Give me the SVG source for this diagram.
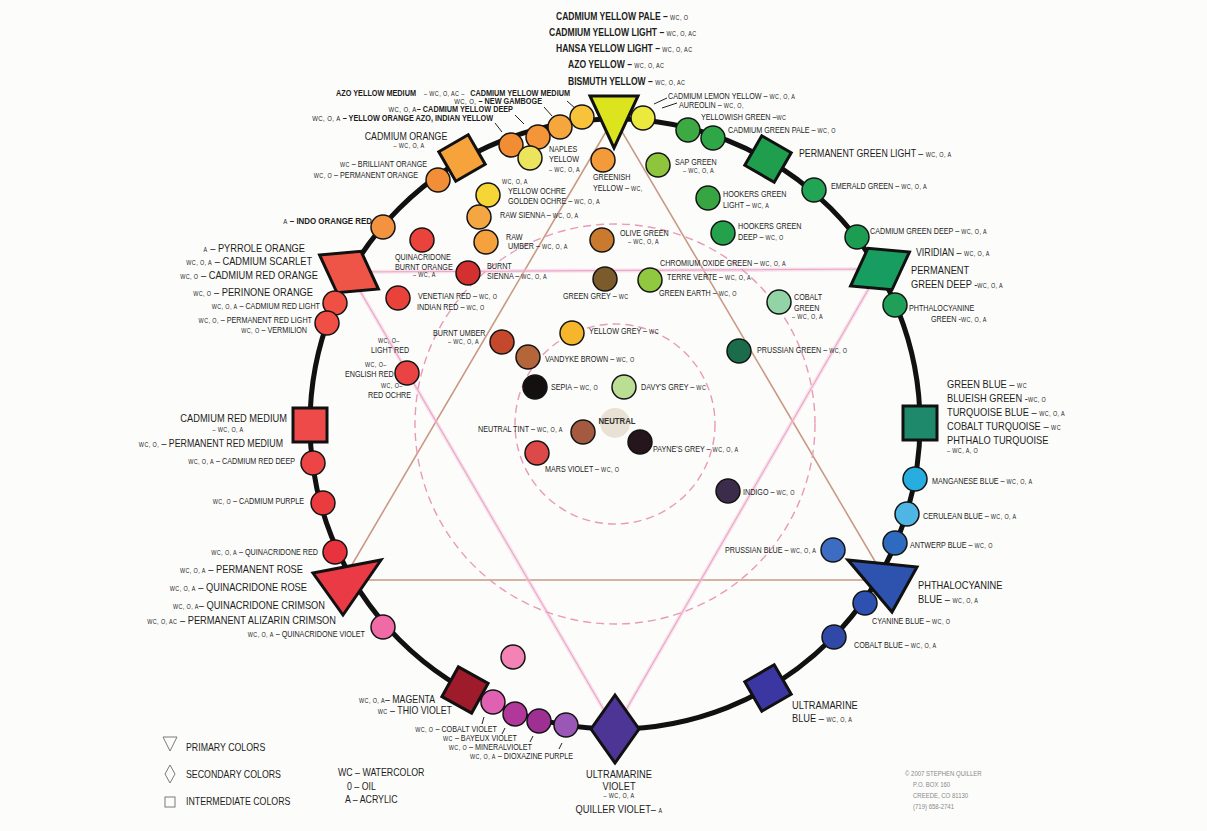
<svg xmlns="http://www.w3.org/2000/svg" width="1207" height="831" viewBox="0 0 1207 831">
<defs>
<style>
text{font-family:"Liberation Sans",Arial,Helvetica,sans-serif;fill:#1d1d1d;transform-box:fill-box;transform-origin:0 50%;transform:scaleX(.8)}
text.e{text-anchor:end;transform-origin:100% 50%}
text.m{text-anchor:middle;transform-origin:50% 50%}
.T{font-size:10.7px;font-weight:bold}
.K{font-size:8.3px;font-weight:bold}
text.K{transform:scaleX(.88)}
.L{font-size:11.6px}
.M{font-size:11px}
.S{font-size:9px}
.w{font-size:6.8px;letter-spacing:.5px;font-weight:normal}
.c{stroke:#141414;stroke-width:1.5}
.sh{stroke:#111;stroke-width:3;stroke-linejoin:miter}
.ring{fill:none;stroke:#111;stroke-width:5}
.br{fill:none;stroke:#c99a84;stroke-width:1.6}
.pkg{fill:none;stroke:#f4c6dc;stroke-width:4;opacity:.45}
.pk{fill:none;stroke:#eba8c8;stroke-width:1.2}
.ds{fill:none;stroke:#e99ab9;stroke-width:1.4;stroke-dasharray:8 5}
.ld{stroke:#222;stroke-width:1}
.lg{fill:none;stroke:#7a7a7a;stroke-width:1}
text.cp{font-size:7.5px;fill:#8a8a8a}
</style>
<polygon id="dia" points="0,-34 24,0 0,34 -24,0"/>
<rect id="sq" x="-17" y="-17" width="34" height="34"/>
</defs>
<rect width="1207" height="831" fill="#fcfcfa"/>

<!-- guide triangles, harmony circles and label leaders -->
<g id="connectors">
<polygon class="br" points="614,118 343,580 886,580"/>
<polygon class="pkg" points="349,272 880,269 615,729"/>
<polygon class="pk" points="349,272 880,269 615,729"/>
<circle class="ds" cx="615" cy="424" r="200"/>
<circle class="ds" cx="615" cy="424" r="100"/>
<line class="ld" x1="567" y1="101" x2="576" y2="109"/>
<line class="ld" x1="544" y1="107" x2="552" y2="116"/>
<line class="ld" x1="515" y1="115" x2="524" y2="124"/>
<line class="ld" x1="495" y1="123" x2="502" y2="132"/>
<line class="ld" x1="654" y1="104" x2="667" y2="98"/>
<line class="ld" x1="662" y1="108" x2="677" y2="103"/>
<line class="ld" x1="484" y1="717" x2="482" y2="724"/>
<line class="ld" x1="505" y1="728" x2="502" y2="734"/>
<line class="ld" x1="533" y1="736" x2="530" y2="742"/>
<line class="ld" x1="562" y1="743" x2="559" y2="749"/>
</g>

<g id="wheel">
<circle class="ring" cx="615" cy="424" r="305"/>
</g>

<!-- outer ring: yellows -->
<g id="primary-yellow">
<polygon class="sh" points="590,96 638,96 614,148" fill="#dbe41c"/>
<text class="T" x="556" y="20">CADMIUM YELLOW PALE – <tspan class="w">WC, O</tspan></text>
<text class="T" x="549" y="36">CADMIUM YELLOW LIGHT – <tspan class="w">WC, O, AC</tspan></text>
<text class="T" x="556" y="52">HANSA YELLOW LIGHT – <tspan class="w">WC, O, AC</tspan></text>
<text class="T" x="568" y="68">AZO YELLOW – <tspan class="w">WC, O, AC</tspan></text>
<text class="T" x="568" y="85">BISMUTH YELLOW – <tspan class="w">WC, O, AC</tspan></text>
</g>
<g id="cadmium-yellow-medium">
<circle class="c" cx="582" cy="117" r="12" fill="#f8c23a"/>
<text class="K" x="336" y="96">AZO YELLOW MEDIUM</text>
<text class="w" x="424" y="96">– WC, O, AC –</text>
<text class="K e" x="570" y="96">CADMIUM YELLOW MEDIUM</text>
</g>
<g id="new-gamboge">
<circle class="c" cx="560" cy="127" r="12" fill="#f5a63c"/>
<text class="K e" x="542" y="104"><tspan class="w">WC, O,</tspan> – NEW GAMBOGE</text>
</g>
<g id="cadmium-yellow-deep">
<circle class="c" cx="538" cy="137" r="12" fill="#f39538"/>
<text class="K e" x="513" y="112"><tspan class="w">WC, O, A</tspan>– CADMIUM YELLOW DEEP</text>
</g>
<g id="yellow-orange-azo">
<circle class="c" cx="511" cy="145" r="12" fill="#f28d33"/>
<text class="K e" x="493" y="121"><tspan class="w">WC, O, A</tspan> – YELLOW ORANGE AZO, INDIAN YELLOW</text>
</g>
<g id="cadmium-orange">
<use href="#sq" class="sh" fill="#f7a33c" transform="translate(462,158) rotate(60)"/>
<text class="M m" x="406" y="140">CADMIUM ORANGE</text>
<text class="w m" x="409" y="148">– WC, O, A</text>
</g>
<g id="permanent-orange">
<circle class="c" cx="438" cy="180" r="12" fill="#f28d38"/>
<text class="S e" x="427" y="167"><tspan class="w">WC</tspan> – BRILLIANT ORANGE</text>
<text class="S e" x="418" y="178"><tspan class="w">WC, O</tspan> – PERMANENT ORANGE</text>
</g>
<g id="indo-orange-red">
<circle class="c" cx="383" cy="227" r="12" fill="#f4933f"/>
<text class="K e" x="372" y="224" style="font-size:9px"><tspan class="w">A</tspan> – INDO ORANGE RED</text>
</g>

<!-- outer ring: oranges and reds -->
<g id="pyrrole-orange">
<use href="#dia" class="sh" fill="#ef5546" transform="translate(349,272) rotate(-60)"/>
<text class="L e" x="305" y="252"><tspan class="w">A</tspan> – PYRROLE ORANGE</text>
<text class="L e" x="312" y="265"><tspan class="w">WC, O, A</tspan> – CADMIUM SCARLET</text>
<text class="L e" x="318" y="279"><tspan class="w">WC, O</tspan> – CADMIUM RED ORANGE</text>
<text class="L e" x="313" y="296"><tspan class="w">WC, O</tspan> – PERINONE ORANGE</text>
</g>
<g id="cadmium-red-light">
<circle class="c" cx="335" cy="303" r="12" fill="#ef5043"/>
<text class="S e" x="320" y="309"><tspan class="w">WC, O, A</tspan> – CADMIUM RED LIGHT</text>
</g>
<g id="permanent-red-light">
<circle class="c" cx="327" cy="323" r="12" fill="#ef4f44"/>
<text class="S e" x="312" y="323"><tspan class="w">WC, O,</tspan> – PERMANENT RED LIGHT</text>
<text class="S e" x="307" y="333"><tspan class="w">WC, O</tspan> – VERMILION</text>
</g>
<g id="cadmium-red-medium">
<use href="#sq" class="sh" fill="#ee4a4a" transform="translate(310,425)"/>
<text class="L e" x="287" y="422">CADMIUM RED MEDIUM</text>
<text class="w m" x="228" y="432">– WC, O, A</text>
<text class="M e" x="283" y="447"><tspan class="w">WC, O,</tspan> – PERMANENT RED MEDIUM</text>
</g>
<g id="cadmium-red-deep">
<circle class="c" cx="313" cy="463" r="12" fill="#ed4545"/>
<text class="S e" x="295" y="464"><tspan class="w">WC, O, A</tspan> – CADMIUM RED DEEP</text>
</g>
<g id="cadmium-purple">
<circle class="c" cx="323" cy="503" r="12" fill="#ea3c3e"/>
<text class="S e" x="304" y="504"><tspan class="w">WC, O</tspan> – CADMIUM PURPLE</text>
</g>
<g id="quinacridone-red">
<circle class="c" cx="335" cy="552" r="12" fill="#e8333e"/>
<text class="S e" x="318" y="555"><tspan class="w">WC, O, A</tspan> – QUINACRIDONE RED</text>
</g>
<g id="primary-red">
<polygon class="sh" points="313,573 381,560 343,615" fill="#e93a46"/>
<text class="L e" x="303" y="573"><tspan class="w">WC, O, A</tspan> – PERMANENT ROSE</text>
<text class="L e" x="307" y="591"><tspan class="w">WC, O, A</tspan> – QUINACRIDONE ROSE</text>
<text class="L e" x="325" y="609"><tspan class="w">WC, O, A</tspan>– QUINACRIDONE CRIMSON</text>
<text class="L e" x="336" y="624"><tspan class="w">WC, O, AC</tspan> – PERMANENT ALIZARIN CRIMSON</text>
</g>
<g id="quinacridone-violet">
<circle class="c" cx="383" cy="627" r="12" fill="#f06ba6"/>
<text class="S e" x="365" y="637"><tspan class="w">WC, O, A</tspan> – QUINACRIDONE VIOLET</text>
</g>

<!-- outer ring: violets -->
<g id="magenta">
<use href="#sq" class="sh" fill="#9d1b2b" transform="translate(465,690) rotate(29)"/>
<text class="M e" x="435" y="703"><tspan class="w">WC, O, A</tspan>– MAGENTA</text>
<text class="M e" x="452" y="714"><tspan class="w">WC</tspan> – THIO VIOLET</text>
</g>
<g id="cobalt-violet">
<circle class="c" cx="493" cy="702" r="12" fill="#e060b2"/>
<text class="S e" x="497" y="732"><tspan class="w">WC, O</tspan> – COBALT VIOLET</text>
</g>
<g id="bayeux-violet">
<circle class="c" cx="515" cy="714" r="12" fill="#b1379a"/>
<text class="S e" x="517" y="741"><tspan class="w">WC</tspan> – BAYEUX VIOLET</text>
</g>
<g id="mineral-violet">
<circle class="c" cx="539" cy="721" r="12" fill="#9e2f93"/>
<text class="S e" x="532" y="750"><tspan class="w">WC, O</tspan> – MINERALVIOLET</text>
</g>
<g id="dioxazine-purple">
<circle class="c" cx="566" cy="725" r="12" fill="#9b57b6"/>
<text class="S e" x="573" y="759"><tspan class="w">WC, O, A</tspan> – DIOXAZINE PURPLE</text>
</g>
<g id="ultramarine-violet">
<use href="#dia" class="sh" fill="#4c3594" transform="translate(615,729)"/>
<text class="L m" x="619" y="778">ULTRAMARINE</text>
<text class="L m" x="619" y="790">VIOLET</text>
<text class="w m" x="619" y="798">– WC, O, A</text>
<text class="L m" x="619" y="813">QUILLER VIOLET– <tspan class="w">A</tspan></text>
</g>

<!-- outer ring: blues -->
<g id="ultramarine-blue">
<use href="#sq" class="sh" fill="#3b36a1" transform="translate(768,688) rotate(60)"/>
<text class="L" x="792" y="709">ULTRAMARINE</text>
<text class="L" x="792" y="722">BLUE – <tspan class="w">WC, O, A</tspan></text>
</g>
<g id="cobalt-blue">
<circle class="c" cx="834" cy="637" r="12" fill="#3049a7"/>
<text class="S" x="854" y="648">COBALT BLUE – <tspan class="w">WC, O, A</tspan></text>
</g>
<g id="cyanine-blue">
<circle class="c" cx="865" cy="603" r="12" fill="#2e50b0"/>
<text class="S" x="872" y="624">CYANINE BLUE – <tspan class="w">WC, O</tspan></text>
</g>
<g id="primary-blue">
<polygon class="sh" points="848,560 917,567 892,612" fill="#2d53ae"/>
<text class="L" x="918" y="589">PHTHALOCYANINE</text>
<text class="L" x="918" y="603">BLUE – <tspan class="w">WC, O, A</tspan></text>
</g>
<g id="antwerp-blue">
<circle class="c" cx="895" cy="543" r="12" fill="#2e6bbf"/>
<text class="S" x="910" y="548">ANTWERP BLUE – <tspan class="w">WC, O</tspan></text>
</g>
<g id="cerulean-blue">
<circle class="c" cx="907" cy="514" r="12" fill="#4fb5e5"/>
<text class="S" x="923" y="519">CERULEAN BLUE – <tspan class="w">WC, O, A</tspan></text>
</g>
<g id="manganese-blue">
<circle class="c" cx="915" cy="479" r="12" fill="#28ade0"/>
<text class="S" x="932" y="484">MANGANESE BLUE – <tspan class="w">WC, O, A</tspan></text>
</g>
<g id="turquoise">
<use href="#sq" class="sh" fill="#1e8a6b" transform="translate(920,423)"/>
<text class="L" x="947" y="388">GREEN BLUE – <tspan class="w">WC</tspan></text>
<text class="L" x="947" y="402">BLUEISH GREEN -<tspan class="w">WC, O</tspan></text>
<text class="L" x="947" y="416">TURQUOISE BLUE – <tspan class="w">WC, O, A</tspan></text>
<text class="L" x="947" y="430">COBALT TURQUOISE – <tspan class="w">WC</tspan></text>
<text class="L" x="947" y="444">PHTHALO TURQUOISE</text>
<text class="w" x="947" y="453">– WC, A, O</text>
</g>

<!-- outer ring: greens -->
<g id="phthalocyanine-green">
<circle class="c" cx="895" cy="305" r="12" fill="#1f9f58"/>
<text class="S" x="909" y="311">PHTHALOCYANINE</text>
<text class="S" x="931" y="322">GREEN -<tspan class="w">WC, O, A</tspan></text>
</g>
<g id="viridian">
<use href="#dia" class="sh" fill="#179d60" transform="translate(880,269) rotate(60)"/>
<text class="M" x="916" y="256">VIRIDIAN – <tspan class="w">WC, O, A</tspan></text>
<text class="L" x="911" y="274">PERMANENT</text>
<text class="L" x="911" y="288">GREEN DEEP -<tspan class="w">WC, O, A</tspan></text>
</g>
<g id="cadmium-green-deep">
<circle class="c" cx="857" cy="237" r="12" fill="#1d9d52"/>
<text class="S" x="870" y="234">CADMIUM GREEN DEEP – <tspan class="w">WC, O, A</tspan></text>
</g>
<g id="emerald-green">
<circle class="c" cx="814" cy="190" r="12" fill="#22a455"/>
<text class="S" x="831" y="189">EMERALD GREEN – <tspan class="w">WC, O, A</tspan></text>
</g>
<g id="permanent-green-light">
<use href="#sq" class="sh" fill="#1f9e4e" transform="translate(768,159) rotate(30)"/>
<text class="M" x="799" y="157">PERMANENT GREEN LIGHT – <tspan class="w">WC, O, A</tspan></text>
</g>
<g id="cadmium-green-pale">
<circle class="c" cx="713" cy="138" r="12" fill="#30a747"/>
<text class="S" x="728" y="133">CADMIUM GREEN PALE – <tspan class="w">WC, O</tspan></text>
</g>
<g id="yellowish-green">
<circle class="c" cx="688" cy="130" r="12" fill="#3da942"/>
<text class="S" x="701" y="120">YELLOWISH GREEN –<tspan class="w">WC</tspan></text>
</g>
<g id="cadmium-lemon-yellow">
<circle class="c" cx="643" cy="118" r="12" fill="#ebe83e"/>
<text class="S" x="668" y="99">CADMIUM LEMON YELLOW – <tspan class="w">WC, O, A</tspan></text>
<text class="S" x="679" y="108">AUREOLIN – <tspan class="w">WC, O,</tspan></text>
</g>

<!-- inner mixing colours -->
<g id="naples-yellow">
<circle class="c" cx="530" cy="158" r="12" fill="#ede45e"/>
<text class="S" x="549" y="152">NAPLES</text>
<text class="S" x="549" y="162">YELLOW</text>
<text class="w" x="549" y="172">– WC, O, A</text>
</g>
<g id="greenish-yellow">
<circle class="c" cx="603" cy="160" r="12" fill="#f39b3b"/>
<text class="S" x="593" y="180">GREENISH</text>
<text class="S" x="593" y="191">YELLOW – <tspan class="w">WC,</tspan></text>
</g>
<g id="sap-green">
<circle class="c" cx="658" cy="165" r="12" fill="#8ec53d"/>
<text class="S" x="675" y="165">SAP GREEN</text>
<text class="w" x="683" y="173">– WC, O, A</text>
</g>
<g id="hookers-green-light">
<circle class="c" cx="708" cy="198" r="12" fill="#37a642"/>
<text class="S" x="723" y="197">HOOKERS GREEN</text>
<text class="S" x="723" y="208">LIGHT – <tspan class="w">WC, A</tspan></text>
</g>
<g id="hookers-green-deep">
<circle class="c" cx="723" cy="233" r="12" fill="#24a14b"/>
<text class="S" x="738" y="229">HOOKERS GREEN</text>
<text class="S" x="738" y="240">DEEP – <tspan class="w">WC, O</tspan></text>
</g>
<g id="yellow-ochre">
<circle class="c" cx="488" cy="195" r="12" fill="#f5d636"/>
<text class="w" x="502" y="184">WC, O, A</text>
<text class="S" x="508" y="194">YELLOW OCHRE</text>
<text class="S" x="508" y="204">GOLDEN OCHRE – <tspan class="w">WC, O, A</tspan></text>
</g>
<g id="raw-sienna">
<circle class="c" cx="479" cy="217" r="12" fill="#f3a642"/>
<text class="S" x="500" y="218">RAW SIENNA – <tspan class="w">WC, O, A</tspan></text>
</g>
<g id="raw-umber">
<circle class="c" cx="486" cy="242" r="12" fill="#f5a23e"/>
<text class="S" x="506" y="240">RAW</text>
<text class="S" x="508" y="249">UMBER – <tspan class="w">WC, O, A</tspan></text>
</g>
<g id="quinacridone-burnt-orange">
<circle class="c" cx="422" cy="240" r="12" fill="#e9433c"/>
<text class="S" x="395" y="260">QUINACRIDONE</text>
<text class="S" x="395" y="270">BURNT ORANGE</text>
<text class="w" x="413" y="277">– WC, A</text>
</g>
<g id="burnt-sienna">
<circle class="c" cx="468" cy="273" r="12" fill="#d43030"/>
<text class="S" x="487" y="269">BURNT</text>
<text class="S" x="487" y="279">SIENNA – <tspan class="w">WC, O, A</tspan></text>
</g>
<g id="olive-green">
<circle class="c" cx="602" cy="240" r="12" fill="#c97a2f"/>
<text class="S" x="620" y="236">OLIVE GREEN</text>
<text class="w" x="628" y="244">– WC, O, A</text>
</g>
<g id="green-grey">
<circle class="c" cx="605" cy="279" r="12" fill="#7b5b2b"/>
<text class="S" x="563" y="299">GREEN GREY – <tspan class="w">WC</tspan></text>
</g>
<g id="terre-verte">
<circle class="c" cx="650" cy="280" r="12" fill="#90c83f"/>
<text class="S" x="660" y="266">CHROMIUM OXIDE GREEN – <tspan class="w">WC, O, A</tspan></text>
<text class="S" x="667" y="280">TERRE VERTE – <tspan class="w">WC, O, A</tspan></text>
<text class="S" x="659" y="296">GREEN EARTH – <tspan class="w">WC, O</tspan></text>
</g>
<g id="cobalt-green">
<circle class="c" cx="779" cy="302" r="12" fill="#93d4a6"/>
<text class="S" x="794" y="300">COBALT</text>
<text class="S" x="794" y="311">GREEN</text>
<text class="w" x="792" y="319">– WC, O, A</text>
</g>
<g id="prussian-green">
<circle class="c" cx="739" cy="351" r="12" fill="#1b6c4b"/>
<text class="S" x="757" y="353">PRUSSIAN GREEN – <tspan class="w">WC, O</tspan></text>
</g>
<g id="venetian-red">
<circle class="c" cx="398" cy="298" r="12" fill="#e8423a"/>
<text class="S" x="418" y="299">VENETIAN RED – <tspan class="w">WC, O</tspan></text>
<text class="S" x="417" y="310">INDIAN RED – <tspan class="w">WC, O</tspan></text>
</g>
<g id="english-red">
<circle class="c" cx="407" cy="373" r="12" fill="#e94343"/>
<text class="w" x="378" y="343">WC, O–</text>
<text class="S" x="371" y="353">LIGHT RED</text>
<text class="w" x="365" y="367">WC, O–</text>
<text class="S" x="345" y="377">ENGLISH RED</text>
<text class="w" x="381" y="388">WC, O–</text>
<text class="S" x="368" y="398">RED OCHRE</text>
</g>
<g id="burnt-umber">
<circle class="c" cx="502" cy="342" r="12" fill="#c5482c"/>
<text class="S" x="433" y="336">BURNT UMBER</text>
<text class="w" x="448" y="344">– WC, O, A</text>
</g>
<g id="yellow-grey">
<circle class="c" cx="572" cy="333" r="12" fill="#f5b62b"/>
<text class="S" x="589" y="334">YELLOW GREY – <tspan class="w">WC</tspan></text>
</g>
<g id="vandyke-brown">
<circle class="c" cx="528" cy="357" r="12" fill="#b4663a"/>
<text class="S" x="545" y="362">VANDYKE BROWN – <tspan class="w">WC, O</tspan></text>
</g>
<g id="sepia">
<circle class="c" cx="535" cy="387" r="12" fill="#141010"/>
<text class="S" x="551" y="390">SEPIA – <tspan class="w">WC, O</tspan></text>
</g>
<g id="davys-grey">
<circle class="c" cx="624" cy="387" r="12" fill="#bade94"/>
<text class="S" x="641" y="390">DAVY'S GREY – <tspan class="w">WC</tspan></text>
</g>
<g id="neutral">
<circle cx="615" cy="423" r="15" fill="#e9e2d4"/>
<text class="K m" x="617" y="424" style="font-size:8.8px;fill:#333">NEUTRAL</text>
</g>
<g id="neutral-tint">
<circle class="c" cx="583" cy="432" r="12" fill="#a35a3f"/>
<text class="S" x="478" y="432">NEUTRAL TINT – <tspan class="w">WC, O, A</tspan></text>
</g>
<g id="paynes-grey">
<circle class="c" cx="640" cy="442" r="12" fill="#25151d"/>
<text class="S" x="653" y="452">PAYNE'S GREY – <tspan class="w">WC, O, A</tspan></text>
</g>
<g id="mars-violet">
<circle class="c" cx="537" cy="453" r="12" fill="#dd4848"/>
<text class="S" x="545" y="472">MARS VIOLET – <tspan class="w">WC, O</tspan></text>
</g>
<g id="indigo">
<circle class="c" cx="728" cy="491" r="12" fill="#3b2c4c"/>
<text class="S" x="743" y="495">INDIGO – <tspan class="w">WC, O</tspan></text>
</g>
<g id="prussian-blue">
<circle class="c" cx="833" cy="550" r="12" fill="#3c6dc2"/>
<text class="S" x="725" y="553">PRUSSIAN BLUE – <tspan class="w">WC, O, A</tspan></text>
</g>
<g id="rose-tint">
<circle class="c" cx="513" cy="657" r="12" fill="#f283b4"/>
</g>

<!-- key -->
<g id="legend">
<polygon class="lg" points="163,737 177,737 170,751"/>
<polygon class="lg" points="170,765 175,774 170,783 165,774"/>
<rect class="lg" x="165" y="797" width="10" height="10"/>
<text class="M" x="186" y="751">PRIMARY COLORS</text>
<text class="M" x="186" y="778">SECONDARY COLORS</text>
<text class="M" x="186" y="805">INTERMEDIATE COLORS</text>
<text class="M" x="338" y="776">WC – WATERCOLOR</text>
<text class="M" x="347" y="790">0 – OIL</text>
<text class="M" x="345" y="803">A – ACRYLIC</text>
</g>
<g id="credit">
<text class="cp" x="905" y="776">© 2007 STEPHEN QUILLER</text>
<text class="cp" x="913" y="787">P.O. BOX 160</text>
<text class="cp" x="913" y="798">CREEDE, CO 81130</text>
<text class="cp" x="913" y="809">(719) 658-2741</text>
</g>
</svg>
